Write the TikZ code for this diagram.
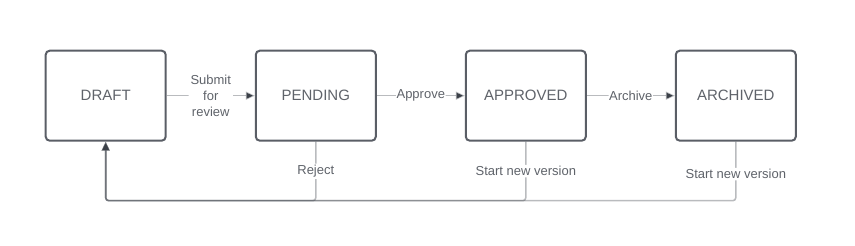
\documentclass[tikz,border=0pt]{standalone}
\usepackage{fontspec}
\setmainfont{Liberation Sans}
\usepackage{tikz}
\usetikzlibrary{calc,positioning,arrows.meta}
\usepackage{xcolor}

\definecolor{boxline}{HTML}{5A5E66}
\definecolor{boxtext}{HTML}{5F636A}
\definecolor{linkgray}{HTML}{3E434B}
\definecolor{tipdark}{HTML}{3A3F47}

\tikzset{
  state/.style={draw=boxline, line width=2pt, rounded corners=4pt, fill=white,
    minimum width=120pt, minimum height=90pt, text=boxtext,
    font=\fontsize{15}{18}\selectfont},
  flow/.style={line width=1.6pt, draw=linkgray, draw opacity=0.36,
    rounded corners=3pt, -{Triangle[length=9pt, width=8pt, color=tipdark]}},
  lbl/.style={fill=white, text=boxtext, inner sep=1.5pt, align=center,
    fill opacity=1, text opacity=1, font=\fontsize{13}{16}\selectfont}
}

\begin{document}
\begin{tikzpicture}[x=1pt, y=1pt]
    \useasboundingbox (0,0) rectangle (855,246);

    % States
    \node[state] (draft) at (105.7, 150.3) {DRAFT};
    \node[state] (pending) at (315.8, 150.3) {PENDING};
    \node[state] (approved) at (525.8, 150.3) {APPROVED};
    \node[state] (archived) at (735.8, 150.3) {ARCHIVED};

    % Forward transitions
    \draw[flow] (draft) -- node[lbl, inner sep=2pt] {Submit\\for\\review} (pending);
    \draw[flow] (pending) -- node[lbl, inner sep=0.5pt] {Approve} (approved);
    \draw[flow] (approved) -- node[lbl, inner sep=0.5pt] {Archive} (archived);

    % Back to draft (common bottom line)
    \coordinate (loop) at (0, 45.3);
    \draw[flow] (pending.south) |- node[lbl, pos=0.25] {Reject} (loop -| draft.south) -- (draft.south);
    \draw[flow] (approved.south) |- node[lbl, pos=0.25] {Start new version} (loop -| draft.south) -- (draft.south);
    \draw[flow] (archived.south) |- node[lbl, pos=0.25, yshift=-3pt] {Start new version} (loop -| draft.south) -- (draft.south);
\end{tikzpicture}
\end{document}
